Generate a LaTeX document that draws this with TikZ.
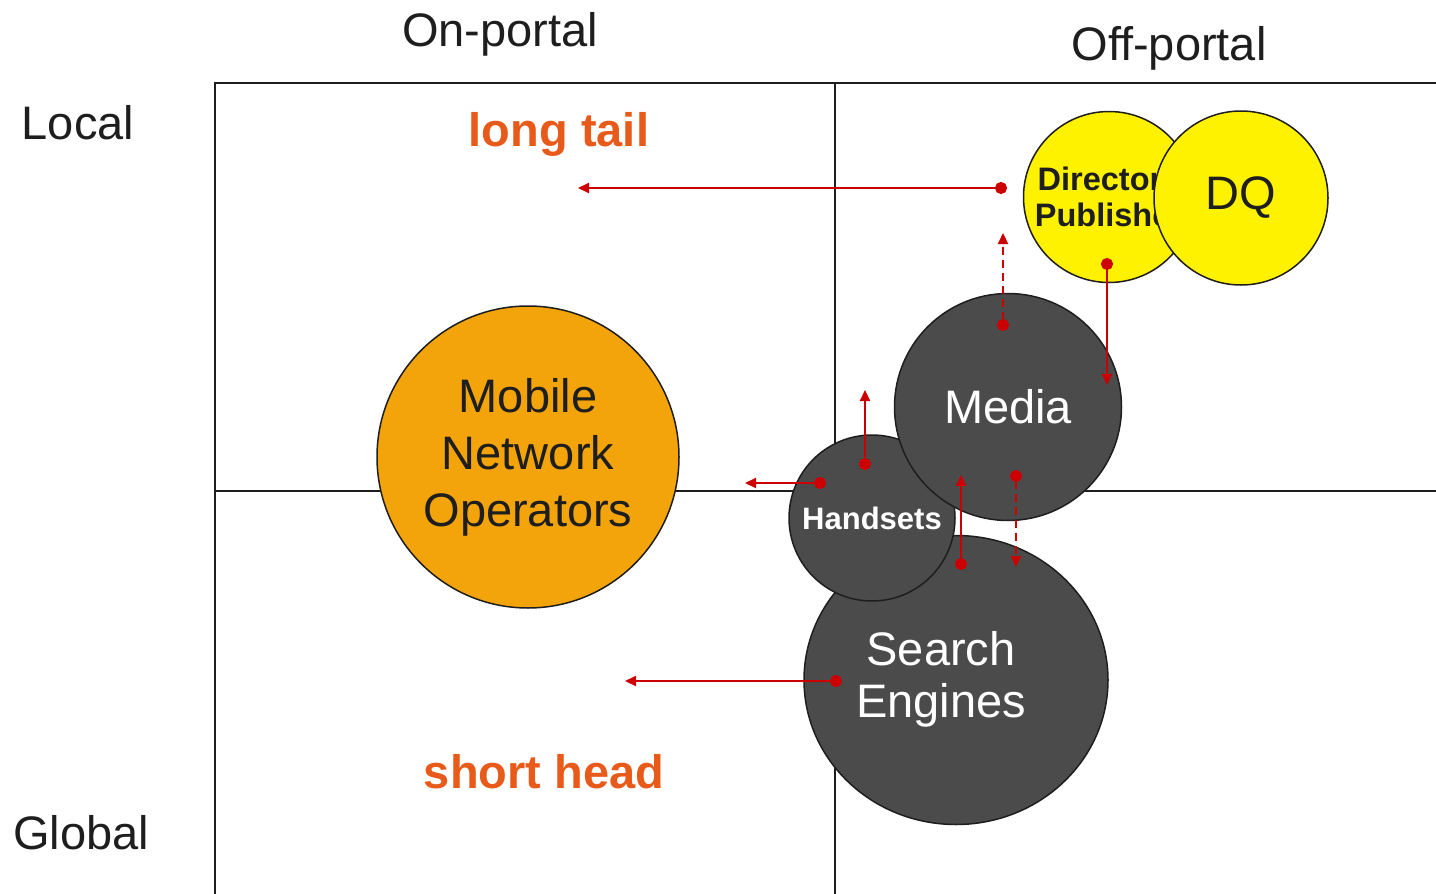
\documentclass[tikz,border=0pt]{standalone}
\usepackage{fontspec}
\setmainfont{Liberation Sans}
\usetikzlibrary{arrows.meta, shapes.geometric}
\definecolor{mnofill}{HTML}{F4A40B}
\definecolor{darkfill}{HTML}{4B4B4B}
\definecolor{linkred}{HTML}{CC0000}
\definecolor{tailorange}{HTML}{E85A1A}
\definecolor{ink}{HTML}{1E1E1E}
\begin{document}
\begin{tikzpicture}[x=1pt, y=-1pt,
    bubble/.style={circle, draw=ink, line width=1.5pt, inner sep=0pt, align=center},
    darkbubble/.style={bubble, fill=darkfill, text=white},
    link/.style={linkred, line width=2.2pt, {Circle[length=12pt]}-{Triangle[length=11pt, width=10pt]}},
    dashlink/.style={link, dash pattern=on 8pt off 5pt},
    big/.style={font=\fontsize{47}{57}\selectfont},
    tail/.style={text=tailorange, font=\bfseries\fontsize{47}{55}\selectfont},
    grid/.style={ink, line width=2pt},
  ]
    \useasboundingbox (0,0) rectangle (1436,894);

    % quadrant lines
    \draw[grid] (1436,83) -- (215,83) -- (215,894);
    \draw[grid] (835,83) -- (835,894);
    \draw[grid] (215,491) -- (1436,491);

    % axis labels
    \node[big, text=ink] (onportal) at (500,34) {On-portal};
    \node[big, text=ink] (offportal) at (1169,48) {Off-portal};
    \node[big, text=ink] (local) at (78,123) {Local};
    \node[big, text=ink] (global) at (81,833) {Global};

    \node[tail] (longtail) at (559,134) {long tail};
    \node[tail] (shorthead) at (544,772) {short head};

    % bubbles
    \node[bubble, fill=mnofill, text=ink, minimum size=302pt, big] (mno) at (528,457)
        {Mobile\\Network\\Operators\rule[-6pt]{0pt}{6pt}};
    \node[ellipse, draw=ink, line width=1.5pt, fill=darkfill, minimum width=304pt, minimum height=289pt] (search) at (956,680) {};
    \node[text=white, align=center, font=\fontsize{47}{52}\selectfont] (searchtext) at (941,679) {Search\\Engines};
    \node[darkbubble, minimum size=166pt, font=\bfseries\fontsize{31}{36}\selectfont] (handsets) at (872,518) {Handsets};
    \node[darkbubble, minimum size=227pt, big] (media) at (1008,407) {Media};
    \node[bubble, fill=yellow, text=ink, minimum size=171pt, font=\bfseries\fontsize{32.5}{36}\selectfont] (dirpub) at (1109,197)
        {Directory\\Publisher};
    \node[bubble, fill=yellow, text=ink, minimum size=174pt, big] (dq) at (1241,198) {DQ};

    % arrow end points
    \coordinate (a1s) at (1007,188);  \coordinate (a1e) at (578,188);
    \coordinate (a2s) at (1003,331);  \coordinate (a2e) at (1003,233);
    \coordinate (a3s) at (1107,258);  \coordinate (a3e) at (1107,385);
    \coordinate (a4s) at (865,470);   \coordinate (a4e) at (865,390);
    \coordinate (a5s) at (826,483);   \coordinate (a5e) at (745,483);
    \coordinate (a6s) at (961,570);   \coordinate (a6e) at (961,475);
    \coordinate (a7s) at (1016,470);  \coordinate (a7e) at (1016,567);
    \coordinate (a8s) at (842,681);   \coordinate (a8e) at (625,681);

    % arrows
    \draw[link] (a1s) -- (a1e);
    \draw[dashlink] (a2s) -- (a2e);
    \draw[link] (a3s) -- (a3e);
    \draw[link] (a4s) -- (a4e);
    \draw[link] (a5s) -- (a5e);
    \draw[link] (a6s) -- (a6e);
    \draw[dashlink] (a7s) -- (a7e);
    \draw[link] (a8s) -- (a8e);
\end{tikzpicture}
\end{document}
